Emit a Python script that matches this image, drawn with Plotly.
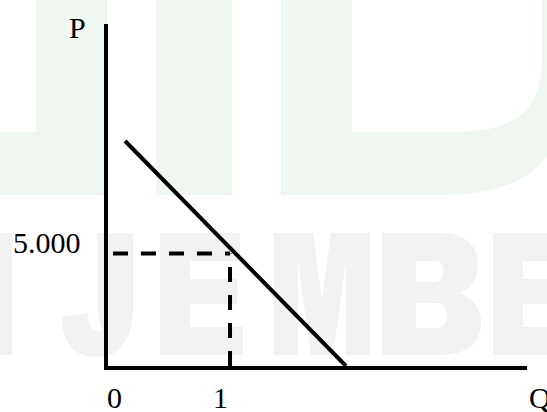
import plotly.graph_objects as go

# Demand curve endpoints: quantity Q and price P
demand_q = [0.14, 1.95]
demand_p = [10000, 0]

# Point
point_q = 1
point_p = 5000

# Axis labels
x_tick_vals = [0, 1]
x_tick_text = ["0", "1"]
y_tick_vals = [5000]
y_tick_text = ["5.000"]
x_title = "Q"
y_title = "P"

# ---- layout geometry -------------------------------------------------
W, H = 547, 412
L, R, T, B = 108, 20, 24, 46
X_MAX = 3.434
Y_MAX = 15200
PW = W - L - R
PH = H - T - B

SERIF = "Liberation Serif"
GREEN = "#eff7f0"
GRAY = "#f2f2f2"


def paper(px, py):
    """Page pixel -> paper coordinates."""
    return (px - L) / PW, (H - B - py) / PH


def path_str(segments):
    cmds = []
    for cmd, pts in segments:
        xy = " ".join("%.5f,%.5f" % paper(*p) for p in pts)
        cmds.append(cmd + xy)
    return " ".join(cmds) + " Z"


def rect_shape(x0, y0, x1, y1, color):
    a = paper(x0, y1)
    b = paper(x1, y0)
    return dict(type="rect", xref="paper", yref="paper",
                x0=a[0], y0=a[1], x1=b[0], y1=b[1],
                fillcolor=color, line=dict(width=0), layer="below")


def path_shape(segments, color):
    return dict(type="path", xref="paper", yref="paper", layer="below",
                path=path_str(segments), fillcolor=color,
                line=dict(width=0))


fig = go.Figure()

# Dashed guides from the point to both axes
fig.add_trace(go.Scatter(
    x=[0, point_q], y=[point_p, point_p], mode="lines",
    line=dict(color="black", width=4, dash="0px,5px,15px,8px"),
    hoverinfo="skip", showlegend=False,
))
fig.add_trace(go.Scatter(
    x=[point_q, point_q], y=[0, point_p], mode="lines",
    line=dict(color="black", width=4, dash="15px,13px"),
    hoverinfo="skip", showlegend=False,
))

# Demand curve
fig.add_trace(go.Scatter(
    x=demand_q, y=demand_p, mode="lines",
    line=dict(color="black", width=4),
    hoverinfo="skip", showlegend=False,
))

# ---- faint background emblem ------------------------------------------
shapes = []
# upper green blocks
shapes.append(rect_shape(0, 132, 36, 195, GREEN))
shapes.append(rect_shape(36, -5, 107, 195, GREEN))
shapes.append(rect_shape(156, -5, 232, 195, GREEN))
shapes.append(path_shape(
    [("M", [(281, -5)]), ("L", [(552, -5)]), ("L", [(552, 150)]),
     ("C", [(530, 180), (500, 195), (440, 195)]), ("L", [(281, 195)])],
    GREEN))
shapes.append(path_shape(
    [("M", [(352, -5)]), ("L", [(542, -5)]), ("L", [(542, 60)]),
     ("C", [(542, 110), (515, 132), (455, 132)]), ("L", [(352, 132)])],
    "white"))

# lower grey lettering
TOP, BOT = 233, 355
shapes.append(rect_shape(-5, TOP, 12, BOT, GRAY))
# J
shapes.append(path_shape(
    [("M", [(97, TOP)]), ("L", [(133, TOP)]), ("L", [(133, 305)]),
     ("C", [(133, 342), (118, 357), (97, 357)]),
     ("C", [(74, 357), (62, 343), (62, 317)]),
     ("L", [(88, 313)]),
     ("C", [(88, 326), (92, 331), (99, 331)]),
     ("C", [(106, 331), (97, 322), (97, 305)])],
    GRAY))


def letter_e(x0, right_top, right_mid, right_bot):
    return [rect_shape(x0, TOP, x0 + 30, BOT, GRAY),
            rect_shape(x0, TOP, right_top, 261, GRAY),
            rect_shape(x0, 279, right_mid, 304, GRAY),
            rect_shape(x0, 327, right_bot, BOT, GRAY)]


shapes += letter_e(160, 240, 237, 243)
# M
shapes.append(path_shape(
    [("M", [(274, BOT)]), ("L", [(274, TOP)]), ("L", [(313, TOP)]),
     ("L", [(322, 300)]), ("L", [(331, TOP)]), ("L", [(370, TOP)]),
     ("L", [(370, BOT)]), ("L", [(346, BOT)]), ("L", [(346, 262)]),
     ("L", [(333, BOT)]), ("L", [(311, BOT)]), ("L", [(298, 262)]),
     ("L", [(298, BOT)])],
    GRAY))
# B
shapes.append(path_shape(
    [("M", [(382, TOP)]), ("L", [(440, TOP)]),
     ("C", [(468, TOP), (478, 248), (478, 264)]),
     ("C", [(478, 280), (470, 289), (460, 293)]),
     ("C", [(474, 298), (481, 310), (481, 322)]),
     ("C", [(481, 344), (466, BOT), (440, BOT)]),
     ("L", [(382, BOT)])],
    GRAY))
shapes.append(path_shape(
    [("M", [(416, 261)]), ("L", [(436, 261)]),
     ("C", [(446, 261), (446, 282), (436, 282)]), ("L", [(416, 282)])],
    "white"))
shapes.append(path_shape(
    [("M", [(416, 303)]), ("L", [(438, 303)]),
     ("C", [(450, 303), (450, 328), (438, 328)]), ("L", [(416, 328)])],
    "white"))
shapes += letter_e(493, 560, 560, 560)

# ---- labels -------------------------------------------------------------
label_font = dict(family=SERIF, size=30, color="black")
annotations = [
    dict(xref="x", yref="paper", x=x_tick_vals[0], y=0, text=x_tick_text[0],
         showarrow=False, font=label_font, xanchor="center",
         yanchor="middle", xshift=6, yshift=-31),
    dict(xref="x", yref="paper", x=x_tick_vals[1], y=0, text=x_tick_text[1],
         showarrow=False, font=label_font, xanchor="center",
         yanchor="middle", xshift=-10, yshift=-31),
    dict(xref="paper", yref="y", x=0, y=y_tick_vals[0], text=y_tick_text[0],
         showarrow=False, font=label_font, xanchor="right",
         yanchor="middle", xshift=-25, yshift=11),
    dict(xref="paper", yref="paper", x=0, y=1, text=y_title,
         showarrow=False, font=label_font, xanchor="center",
         yanchor="middle", xshift=-30.5, yshift=-3),
    dict(xref="paper", yref="paper", x=1, y=0, text=x_title,
         showarrow=False, font=label_font, xanchor="center",
         yanchor="middle", xshift=13, yshift=-31),
]

fig.update_layout(
    width=W, height=H,
    margin=dict(l=L, r=R, t=T, b=B, pad=0),
    paper_bgcolor="white",
    plot_bgcolor="rgba(0,0,0,0)",
    shapes=shapes,
    annotations=annotations,
    showlegend=False,
    xaxis=dict(range=[0, X_MAX], showgrid=False, zeroline=False,
               showticklabels=False, ticks="", showline=True,
               linecolor="black", linewidth=4, fixedrange=True),
    yaxis=dict(range=[0, Y_MAX], showgrid=False, zeroline=False,
               showticklabels=False, ticks="", showline=True,
               linecolor="black", linewidth=4, fixedrange=True),
)

fig.write_html("out.html", config={"displayModeBar": False})
